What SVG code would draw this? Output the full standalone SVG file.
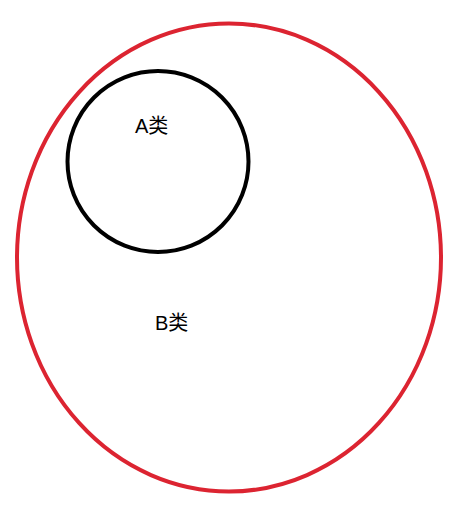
<svg xmlns="http://www.w3.org/2000/svg" width="466" height="530" viewBox="0 0 466 530">
<style>
.lbl{font-family:"Liberation Sans","Noto Sans CJK SC",sans-serif;font-size:20px;fill:#000}
</style>
<rect width="466" height="530" fill="#fff"/>
<g id="classB">
<ellipse cx="229" cy="257.5" rx="212" ry="234" fill="none" stroke="#dc2431" stroke-width="4"/>
<text class="lbl" x="155" y="330">B类</text>
</g>
<g id="classA">
<circle cx="158" cy="161.5" r="90.5" fill="none" stroke="#000" stroke-width="4"/>
<text class="lbl" x="135" y="133">A类</text>
</g>
<g id="connectors"/>
</svg>
